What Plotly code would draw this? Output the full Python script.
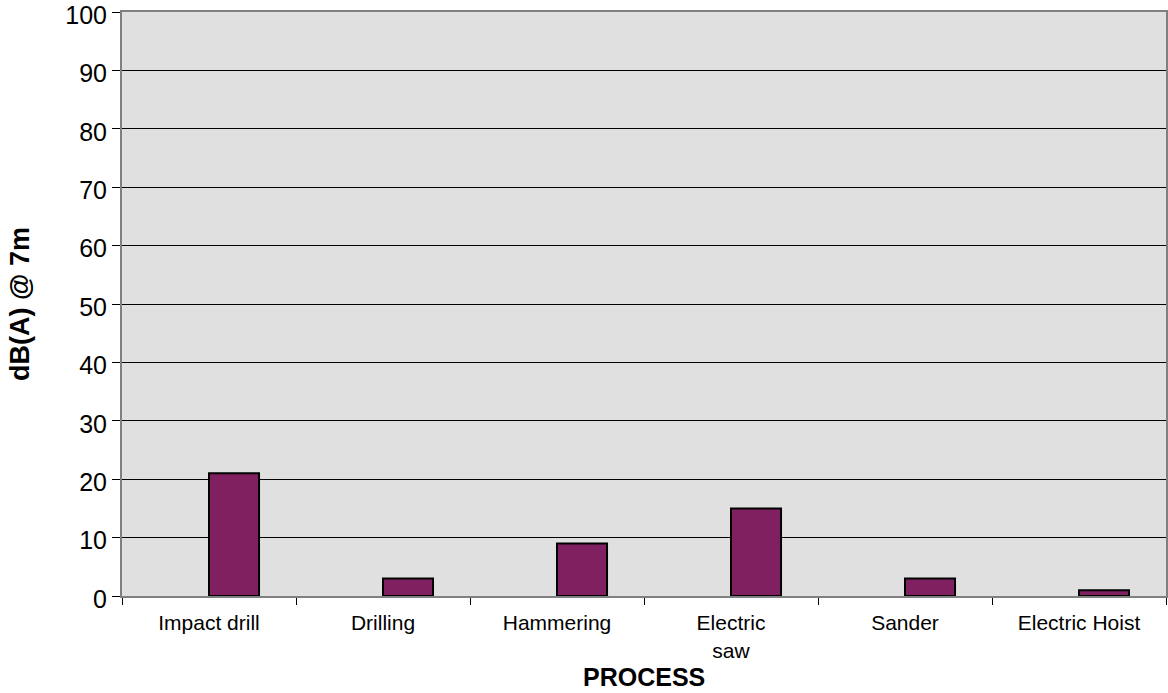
import plotly.graph_objects as go

categories = ["Impact drill", "Drilling", "Hammering", "Electric<br>saw", "Sander", "Electric Hoist"]
empty_series = [None, None, None, None, None, None]
db_values = [21, 3, 9, 15, 3, 1]

fig = go.Figure()
fig.add_trace(go.Bar(x=categories, y=empty_series, marker=dict(color="#9999ff"), showlegend=False))
fig.add_trace(go.Bar(x=categories, y=db_values,
                     marker=dict(color="#802060", line=dict(color="black", width=2)),
                     showlegend=False))

fig.update_layout(
    width=1168, height=693,
    margin=dict(l=122, r=2, t=12, b=97),
    paper_bgcolor="white",
    plot_bgcolor="#e0e0e0",
    barmode="group",
    bargap=0.425,
    bargroupgap=0,
    font=dict(family="Liberation Sans, Arial, sans-serif", color="black"),
    xaxis=dict(
        automargin=False,
        showline=True, linecolor="#808080", linewidth=2, mirror=True,
        ticks="outside", tickson="boundaries", ticklen=7, tickcolor="black",
        tickfont=dict(size=21),
        ticklabelstandoff=7,
        showgrid=False,
    ),
    yaxis=dict(
        automargin=False,
        range=[0, 100], dtick=10,
        showline=True, linecolor="#808080", linewidth=2, mirror=True,
        ticks="outside", ticklen=8, tickcolor="black",
        tickfont=dict(size=25),
        ticklabelshift=3,
        ticklabeloverflow="allow",
        showgrid=True, gridcolor="black", gridwidth=1,
        zeroline=False,
        title=dict(text="<b>dB(A) @ 7m</b>", font=dict(size=27), standoff=28),
    ),
    annotations=[dict(
        text="<b>PROCESS</b>", font=dict(size=25),
        xref="paper", yref="paper", x=0.5, y=-0.138,
        xanchor="center", yanchor="middle", showarrow=False,
    )],
)

fig.write_html("out.html")
